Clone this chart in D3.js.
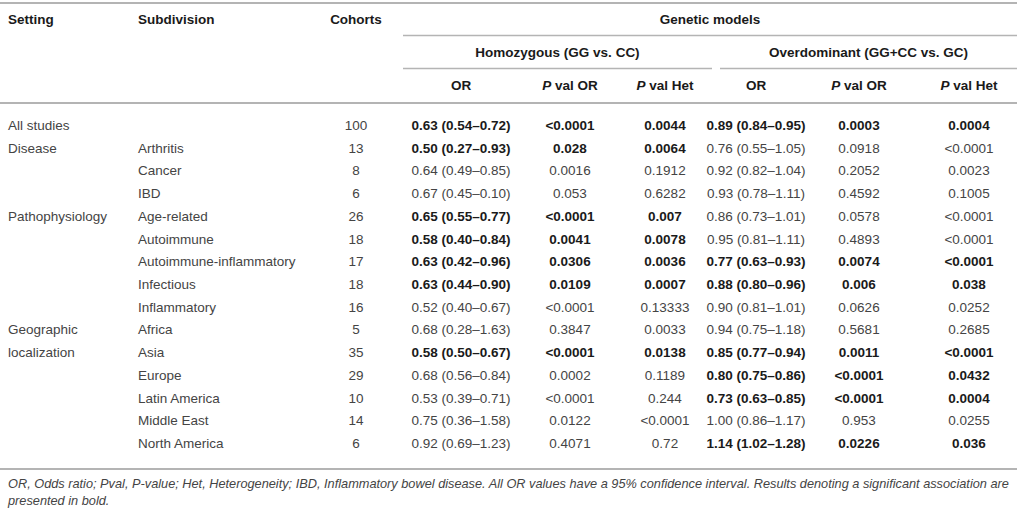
<!DOCTYPE html>
<html><head><meta charset="utf-8">
<script src="https://cdn.jsdelivr.net/npm/d3@7/dist/d3.min.js"></script>
<style>
html,body{margin:0;padding:0;background:#fff;}
svg{display:block;font-family:"Liberation Sans",Arial,Helvetica,sans-serif;}
</style></head><body>
<svg id="t" width="1017" height="515"></svg>
<script>
const settings = ["All studies","Disease","","","Pathophysiology","","","","","Geographic","localization","","","",""];
const subdivisions = ["","Arthritis","Cancer","IBD","Age-related","Autoimmune","Autoimmune-inflammatory","Infectious","Inflammatory","Africa","Asia","Europe","Latin America","Middle East","North America"];
const cohorts = [100,13,8,6,26,18,17,18,16,5,35,29,10,14,6];
const homOR = ["0.63 (0.54–0.72)","0.50 (0.27–0.93)","0.64 (0.49–0.85)","0.67 (0.45–0.10)","0.65 (0.55–0.77)","0.58 (0.40–0.84)","0.63 (0.42–0.96)","0.63 (0.44–0.90)","0.52 (0.40–0.67)","0.68 (0.28–1.63)","0.58 (0.50–0.67)","0.68 (0.56–0.84)","0.53 (0.39–0.71)","0.75 (0.36–1.58)","0.92 (0.69–1.23)"];
const homPvalOR = ["<0.0001","0.028","0.0016","0.053","<0.0001","0.0041","0.0306","0.0109","<0.0001","0.3847","<0.0001","0.0002","<0.0001","0.0122","0.4071"];
const homPvalHet = ["0.0044","0.0064","0.1912","0.6282","0.007","0.0078","0.0036","0.0007","0.13333","0.0033","0.0138","0.1189","0.244","<0.0001","0.72"];
const homSignificant = [true,true,false,false,true,true,true,true,false,false,true,false,false,false,false];
const ovdOR = ["0.89 (0.84–0.95)","0.76 (0.55–1.05)","0.92 (0.82–1.04)","0.93 (0.78–1.11)","0.86 (0.73–1.01)","0.95 (0.81–1.11)","0.77 (0.63–0.93)","0.88 (0.80–0.96)","0.90 (0.81–1.01)","0.94 (0.75–1.18)","0.85 (0.77–0.94)","0.80 (0.75–0.86)","0.73 (0.63–0.85)","1.00 (0.86–1.17)","1.14 (1.02–1.28)"];
const ovdPvalOR = ["0.0003","0.0918","0.2052","0.4592","0.0578","0.4893","0.0074","0.006","0.0626","0.5681","0.0011","<0.0001","<0.0001","0.953","0.0226"];
const ovdPvalHet = ["0.0004","<0.0001","0.0023","0.1005","<0.0001","<0.0001","<0.0001","0.038","0.0252","0.2685","<0.0001","0.0432","0.0004","0.0255","0.036"];
const ovdSignificant = [true,false,false,false,false,false,true,true,false,false,true,true,true,false,true];
const headerTop = ["Setting","Subdivision","Cohorts"];
const groupTitle = "Genetic models";
const modelNames = ["Homozygous (GG vs. CC)","Overdominant (GG+CC vs. GC)"];
const footnoteLines = ["OR, Odds ratio; Pval, P-value; Het, Heterogeneity; IBD, Inflammatory bowel disease. All OR values have a 95% confidence interval. Results denoting a significant association are","presented in bold."];

const svg = d3.select("#t");
const W = 1017;
const FS = 13.5;
const cReg = "#444444", cBold = "#1a1a1a", lineC = "#b4b4b4";

// rows
const y = d3.scaleBand().domain(d3.range(subdivisions.length)).range([113.5, 454.5]).paddingInner(0);
// column centers
const colKeys = ["cohorts","homOR","homP","homH","ovdOR","ovdP","ovdH"];
const x = d3.scaleOrdinal().domain(colKeys).range([356,461,570,665,756,859,969]);

function line(x1,x2,yy,w){ svg.append("line").attr("x1",x1).attr("x2",x2).attr("y1",yy).attr("y2",yy).attr("stroke",lineC).attr("stroke-width",w); }
line(0,W,3,2);
line(403,W,35.5,1.3);
line(403,712,68.5,1.3);
line(720,W,68.5,1.3);
line(0,W,103,2);
line(0,W,469,2);

const hdr = svg.append("g").attr("font-weight","bold").attr("fill",cBold).attr("font-size",FS);
hdr.append("text").attr("x",8).attr("y",24).text(headerTop[0]);
hdr.append("text").attr("x",138).attr("y",24).text(headerTop[1]);
hdr.append("text").attr("x",x("cohorts")).attr("y",24).attr("text-anchor","middle").text(headerTop[2]);
hdr.append("text").attr("x",(403+W)/2).attr("y",24).attr("text-anchor","middle").text(groupTitle);
hdr.append("text").attr("x",(403+712)/2).attr("y",57).attr("text-anchor","middle").text(modelNames[0]);
hdr.append("text").attr("x",(720+W)/2).attr("y",57).attr("text-anchor","middle").text(modelNames[1]);
function subHdr(k, italicP, rest){
  const t = hdr.append("text").attr("x",x(k)).attr("y",90).attr("text-anchor","middle");
  if(italicP){ t.append("tspan").attr("font-style","italic").text("P"); t.append("tspan").text(" "+rest); }
  else t.text(rest);
}
subHdr("homOR",false,"OR"); subHdr("homP",true,"val OR"); subHdr("homH",true,"val Het");
subHdr("ovdOR",false,"OR"); subHdr("ovdP",true,"val OR"); subHdr("ovdH",true,"val Het");

const rows = svg.append("g").attr("font-size",FS).selectAll("g").data(d3.range(subdivisions.length)).join("g")
  .attr("transform",i=>`translate(0,${y(i)+y.bandwidth()/2+5})`);
rows.append("text").attr("x",8).attr("fill",cReg).text(i=>settings[i]);
rows.append("text").attr("x",138).attr("fill",cReg).text(i=>subdivisions[i]);
rows.append("text").attr("x",x("cohorts")).attr("text-anchor","middle").attr("fill",cReg).text(i=>cohorts[i]);
const cells = [["homOR",homOR,homSignificant],["homP",homPvalOR,homSignificant],["homH",homPvalHet,homSignificant],
               ["ovdOR",ovdOR,ovdSignificant],["ovdP",ovdPvalOR,ovdSignificant],["ovdH",ovdPvalHet,ovdSignificant]];
cells.forEach(([k,arr,sig])=>{
  rows.append("text").attr("x",x(k)).attr("text-anchor","middle")
    .attr("font-weight",i=>sig[i]?"bold":"normal").attr("fill",i=>sig[i]?cBold:cReg).text(i=>arr[i]);
});

const fn = svg.append("g").attr("font-size",12.75).attr("font-style","italic").attr("fill",cReg);
fn.selectAll("text").data(footnoteLines).join("text").attr("x",8).attr("y",(d,i)=>488+i*17).text(d=>d);
</script></body></html>
